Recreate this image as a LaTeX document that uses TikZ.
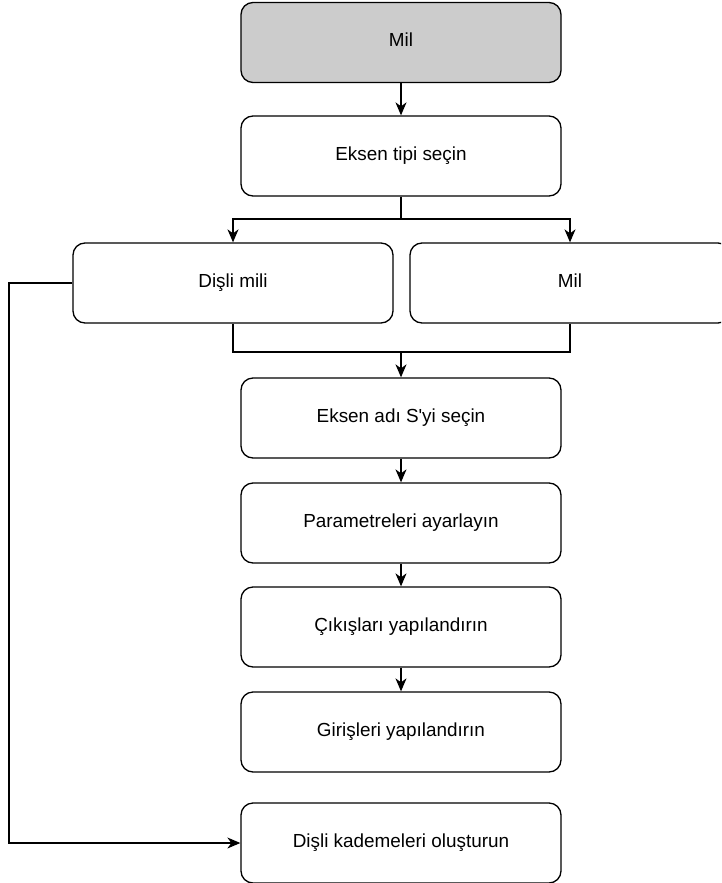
\documentclass[tikz,border=0pt]{standalone}
\usepackage{fontspec}
\setmainfont{Liberation Sans}
\usetikzlibrary{arrows.meta}

\definecolor{kutugri}{RGB}{204,204,204}
\tikzset{
	kutu/.style={draw, rounded corners=12pt, minimum width=320pt, minimum height=80pt, inner sep=0pt, text height=0.9em, text depth=0pt, line width=1.3pt, font=\fontsize{18.9}{22}\selectfont},
	ok/.style={-{Stealth[length=13pt, width=11pt, inset=4pt]}, line width=1.3pt},
	hat/.style={line width=1.3pt}
}

\begin{document}
\begin{tikzpicture}[x=1pt, y=-1pt]
		\useasboundingbox (0,0) rectangle (721,883);
		\clip (0,0) rectangle (721,883);
		
		\node[kutu, fill=kutugri] (mil) at (401,42.5) {Mil};
		\node[kutu] (eksen) at (401,156) {Eksen tipi seçin};
		\node[kutu] (disli) at (233,283) {Dişli mili};
		\node[kutu] (milr) at (570,283) {Mil};
		\node[kutu] (eksenadi) at (401,418) {Eksen adı S\textquotesingle yi seçin};
		\node[kutu] (param) at (401,523) {Parametreleri ayarlayın};
		\node[kutu] (cikis) at (401,627) {Çıkışları yapılandırın};
		\node[kutu] (giris) at (401,732) {Girişleri yapılandırın};
		\node[kutu] (kademe) at (401,843) {Dişli kademeleri oluşturun};
		
		\coordinate (ayir) at (401,219);
		\coordinate (birles) at (401,352);
		\coordinate (sol) at (9,283);
		
		\draw[ok] (mil) -- (eksen);
		\draw[hat] (eksen) -- (ayir);
		\draw[ok] (ayir) -| (disli);
		\draw[ok] (ayir) -| (milr);
		\draw[hat] (disli) |- (birles);
		\draw[hat] (milr) |- (birles);
		\draw[ok] (birles) -- (eksenadi);
		\draw[ok] (eksenadi) -- (param);
		\draw[ok] (param) -- (cikis);
		\draw[ok] (cikis) -- (giris);
		\draw[ok] (disli.west) -- (sol) |- (kademe.west);
	\end{tikzpicture}
\end{document}
